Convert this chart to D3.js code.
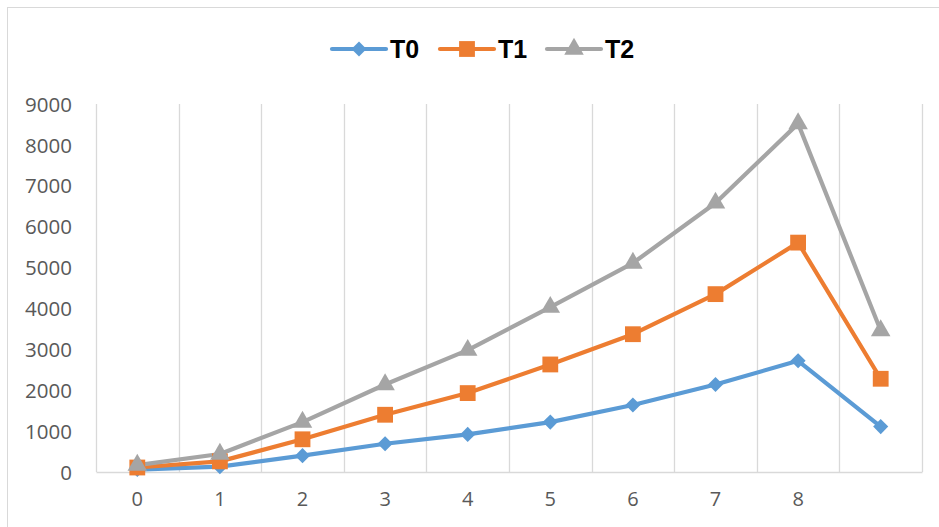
<!DOCTYPE html>
<html><head><meta charset="utf-8">
<script src="https://cdn.jsdelivr.net/npm/d3@7"></script>
<style>html,body{margin:0;padding:0;background:#fff;}svg{display:block;}</style>
</head><body>
<svg id="chart" width="939" height="527"></svg>
<script>
const categories = ["0","1","2","3","4","5","6","7","8",""];
const seriesNames = ["T0","T1","T2"];
const T0 = [60, 130, 400, 690, 920, 1220, 1640, 2140, 2720, 1110];
const T1 = [110, 260, 800, 1400, 1930, 2630, 3370, 4350, 5610, 2280];
const T2 = [170, 440, 1220, 2140, 2980, 4030, 5110, 6580, 8520, 3460];
const yTicks = [0,1000,2000,3000,4000,5000,6000,7000,8000,9000];
const colors = ["#5B9BD5","#ED7D31","#A5A5A5"];

(function(){
const svg = d3.select("#chart");
const W = 939, H = 527;
const pL = 96, pR = 922, pT = 104, pB = 472;

svg.append("rect").attr("x",7.5).attr("y",7.5).attr("width",W).attr("height",H)
  .attr("fill","none").attr("stroke","#d9d9d9").attr("stroke-width",1);

const x = d3.scaleBand().domain(d3.range(categories.length)).range([pL,pR]).paddingInner(0).paddingOuter(0);
const y = d3.scaleLinear().domain([0,9000]).range([pB,pT]);

const bounds = d3.range(categories.length+1).map(i => pL + i*x.bandwidth());
svg.append("g").selectAll("line").data(bounds).join("line")
  .attr("x1",d=>Math.round(d)+0.5).attr("x2",d=>Math.round(d)+0.5)
  .attr("y1",pT).attr("y2",pB)
  .attr("stroke","#d9d9d9").attr("stroke-width",1.3);

const xAxis = d3.axisBottom(x).tickSize(0).tickFormat(i=>categories[i]);
const gx = svg.append("g").attr("transform",`translate(0,${pB})`).call(xAxis);
gx.select(".domain").attr("stroke","#d9d9d9").attr("stroke-width",1.5);
gx.selectAll("text").attr("dy",0).attr("y",34)
  .attr("font-family","'Open Sans', sans-serif").attr("font-size","20px").attr("fill","#595959");

const yAxis = d3.axisLeft(y).tickValues(yTicks).tickSize(0).tickFormat(d3.format("d"));
const gy = svg.append("g").attr("transform",`translate(72,0)`).call(yAxis);
gy.select(".domain").remove();
gy.selectAll("text").attr("x",0).attr("dy","0.35em")
  .attr("font-family","'Open Sans', sans-serif").attr("font-size","20.5px").attr("fill","#595959");

const data = [T0,T1,T2];
const cx = i => x(i) + x.bandwidth()/2;
const line = d3.line().x((d,i)=>cx(i)).y(d=>y(d));

const symbols = [d3.symbolDiamond2, d3.symbolSquare, d3.symbolTriangle];
const sizes = [145, 250, 165];

data.forEach((vals,s)=>{
  svg.append("path").datum(vals).attr("d",line)
    .attr("fill","none").attr("stroke",colors[s]).attr("stroke-width",4.2).attr("stroke-linejoin","round");
});
data.forEach((vals,s)=>{
  svg.append("g").selectAll("path").data(vals).join("path")
    .attr("transform",(d,i)=>`translate(${cx(i)},${y(d)})`)
    .attr("d",d3.symbol().type(symbols[s]).size(sizes[s])())
    .attr("fill",colors[s]);
});

const legendX = [332, 440, 547];
seriesNames.forEach((n,s)=>{
  const g = svg.append("g").attr("transform",`translate(${legendX[s]},49)`);
  g.append("line").attr("x1",0).attr("x2",54).attr("y1",0).attr("y2",0)
    .attr("stroke",colors[s]).attr("stroke-width",4.2).attr("stroke-linecap","round");
  g.append("path").attr("transform","translate(27,0)")
    .attr("d",d3.symbol().type(symbols[s]).size(sizes[s])()).attr("fill",colors[s]);
  g.append("text").attr("x",58).attr("y",0).attr("dy","0.36em")
    .attr("font-family","'Liberation Sans', Arial, sans-serif").attr("font-weight","bold")
    .attr("font-size","25px").attr("fill","#000").text(n);
});
})();
</script>
</body></html>
